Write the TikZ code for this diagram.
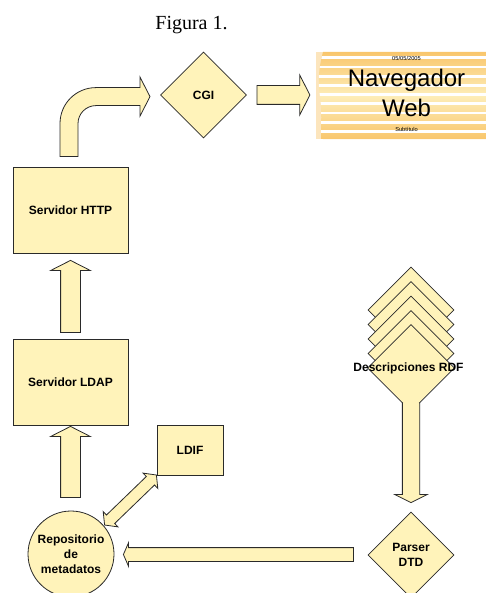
\documentclass[tikz,border=0pt]{standalone}
\usepackage{fontspec}
\setmainfont{Liberation Serif}
\setsansfont{Liberation Sans}
\usetikzlibrary{shapes.geometric,shapes.arrows,calc,positioning}
\definecolor{pale}{HTML}{FFF3BA}
\definecolor{ink}{HTML}{2A2A2A}
\definecolor{navor}{HTML}{F9C66C}
\definecolor{navlt}{HTML}{FDEDB8}

\begin{document}
\begin{tikzpicture}[x=1pt,y=-1pt,
  every node/.style={font=\sffamily\bfseries\fontsize{12}{15}\selectfont},
  box/.style={draw=ink,fill=pale,line width=0.8pt,align=center,inner sep=0pt},
  caja/.style={box,minimum width=115pt,minimum height=86pt},
  rombo/.style={box,diamond,minimum size=86pt},
  blk/.style={single arrow,draw=ink,fill=pale,line width=0.8pt,inner xsep=0pt,outer sep=0pt,
    inner ysep=9.5pt,single arrow head extend=10pt,single arrow tip angle=126},
  blkline/.style={draw=ink,fill=pale,line width=0.8pt},
  navtxt/.style={font=\sffamily\fontsize{24}{30}\selectfont,anchor=base,inner sep=0pt},
  navsmall/.style={font=\sffamily\fontsize{5.7}{6}\selectfont,anchor=base,inner sep=0pt}
]
\useasboundingbox (0,0) rectangle (488,593);

\node[font=\rmfamily\fontsize{20}{24}\selectfont,anchor=base] (tit) at (191.5,30) {Figura 1.};

% left column
\node[caja] (http) at (70.5,210) {Servidor HTTP};
\node[caja] (ldap) at (70.5,382) {Servidor LDAP};
\node[box,circle,minimum size=86pt] (repo) at (71,554) {Repositorio\\de\\metadatos};
\node[box,minimum width=66pt,minimum height=50pt] (ldif) at (190,450) {LDIF};

% top row
\node[rombo] (cgi) at (203.5,95) {CGI};
\node[minimum width=170pt,minimum height=87pt,inner sep=0pt] (nav) at (401,95.5) {};
\fill[navor!45] (nav.north west) rectangle (nav.south east);
\begin{scope}
  \clip (323,52) .. controls (318,70) and (318,85) .. (320,96)
        .. controls (322,110) and (321,125) .. (321,139) -- (nav.south east) -- (nav.north east) -- cycle;
  \shade[top color=navor,bottom color=navor,middle color=navlt] (nav.north west) rectangle (nav.south east);
  \foreach \i in {0,...,9}
    \fill[white] (316,{56.5+9.2*\i}) rectangle (486,{59.3+9.2*\i});
\end{scope}
\node[navsmall] (fecha) at ($(nav.north)+(5.5,9)$) {05/05/2005};
\node[navtxt] (nav1) at ($(nav.north)+(5.5,35)$) {Navegador};
\node[navtxt] (nav2) at ($(nav.north)+(5.5,65)$) {Web};
\node[navsmall] (subt) at ($(nav.north)+(5.5,80)$) {Subtítulo};

% right column
\foreach \k in {4,3,2,1}
  \node[rombo] (rdf\k) at (411,{368-14.5*\k}) {};
\node[rombo] (parser) at (411,555) {Parser\\DTD};
\node[blk,rotate=-90,minimum height=118pt,anchor=tip,inner ysep=8.25pt,
  single arrow head extend=7.5pt,single arrow tip angle=127] (a5) at ($(parser.north)+(0,-9)$) {};
\node[rombo,draw=none] (rdf) at (411,368) {};
\draw[ink,line width=0.8pt] ($(rdf.south)+(-8.25,-8.25)$) -- (rdf.west) -- (rdf.north)
  -- (rdf.east) -- ($(rdf.south)+(8.25,-8.25)$);
\node (rdftxt) at ($(rdf)+(-2.5,0)$) {Descripciones RDF};

% arrows
\node[blk,rotate=90,minimum height=72pt,anchor=tip] (a1) at ($(http.south)+(0,7)$) {};
\node[blk,rotate=90,minimum height=71pt,anchor=tip] (a2) at ($(ldap.south)+(0,1)$) {};
\node[blk,minimum height=53pt,anchor=tail,inner ysep=9pt,single arrow head extend=10.5pt] (a3)
  at ($(cgi.east)+(10,0)$) {};
\node[blk,rotate=180,minimum height=230pt,anchor=tip,inner ysep=6.5pt,
  single arrow head extend=5pt,single arrow tip angle=133] (a4) at ($(repo.east)+(9,0.5)$) {};
\node[double arrow,draw=ink,fill=pale,line width=0.8pt,rotate=44,minimum height=72pt,
  inner xsep=0pt,inner ysep=5.5pt,double arrow head extend=4.75pt,double arrow tip angle=104]
  (a6) at ($(repo)!0.5!(ldif)+(0,-2)$) {};
\draw[blkline] ($(http.north)+(-10.5,-10)$) -- ++(0,-33)
  .. controls +(0,-20) and +(-20,0) .. ++(36,-36) -- ++(44,0) -- ++(0,-10.5)
  -- ++(10,19.5) -- ++(-10,19.5) -- ++(0,-10.5) -- ++(-44,0)
  .. controls +(-10,0) and +(0,-10) .. ++(-18,18) -- ++(0,33) -- cycle;
\end{tikzpicture}
\end{document}
